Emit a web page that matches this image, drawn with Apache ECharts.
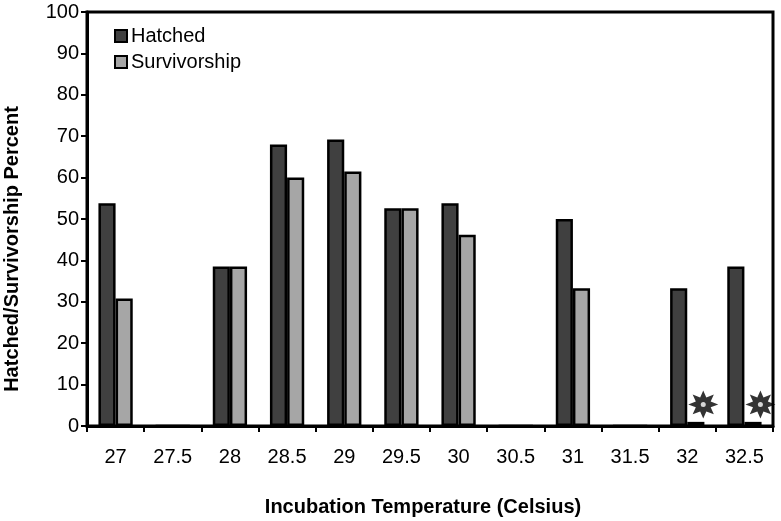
<!DOCTYPE html>
<html>
<head>
<meta charset="utf-8">
<script src="https://cdn.jsdelivr.net/npm/echarts@6/dist/echarts.min.js"></script>
<style>
html,body{margin:0;padding:0;background:#fff;}
#chart{width:781px;height:521px;}
</style>
</head>
<body>
<div id="chart"></div>
<script>
const categories = ['27','27.5','28','28.5','29','29.5','30','30.5','31','31.5','32','32.5'];
const hatched = [53.8, 0, 38.5, 68, 69.2, 52.6, 53.8, 0, 50, 0, 33.3, 38.5];
const survivorship = [30.8, 0, 38.5, 60, 61.5, 52.6, 46.2, 0, 33.3, 0, 1, 1];
const starMarkers = [null, null, null, null, null, null, null, null, null, null, 5.2, 5.2];
const yTicks = {min: 0, max: 100, interval: 10};
const xTitle = 'Incubation Temperature (Celsius)';
const yTitle = 'Hatched/Survivorship Percent';

function starPath(n, rOut, rIn) {
  let d = '';
  for (let i = 0; i < 2 * n; i++) {
    const r = i % 2 === 0 ? rOut : rIn;
    const a = -Math.PI / 2 + i * Math.PI / n;
    const x = (r * Math.cos(a)).toFixed(2), y = (r * Math.sin(a)).toFixed(2);
    d += (i === 0 ? 'M' : 'L') + x + ' ' + y + ' ';
  }
  return 'path://' + d + 'Z';
}

const font = '"Liberation Sans", Arial, sans-serif';
const chart = echarts.init(document.getElementById('chart'), null, {renderer: 'canvas'});
chart.setOption({
  animation: false,
  backgroundColor: '#fff',
  textStyle: {fontFamily: font, color: '#000'},
  grid: {left: 87, right: 8, top: 12, bottom: 95, show: true, borderColor: '#000', borderWidth: 3, backgroundColor: 'transparent'},
  legend: {
    data: ['Hatched', 'Survivorship'],
    orient: 'vertical',
    left: 109,
    top: 21,
    itemWidth: 12,
    itemHeight: 12,
    itemGap: 6,
    textStyle: {fontSize: 20, color: '#000', fontFamily: font, padding: [0, 0, 0, -1]},
    icon: 'rect'
  },
  xAxis: {
    type: 'category',
    data: categories,
    axisLine: {lineStyle: {color: '#000', width: 3}},
    axisTick: {show: true, length: 6, lineStyle: {color: '#000', width: 2}},
    axisLabel: {fontSize: 20, color: '#000', margin: 21, fontFamily: font}
  },
  yAxis: {
    type: 'value',
    min: yTicks.min, max: yTicks.max, interval: yTicks.interval,
    axisLine: {show: true, lineStyle: {color: '#000', width: 3}},
    axisTick: {show: true, length: 6, lineStyle: {color: '#000', width: 2}},
    axisLabel: {fontSize: 20, color: '#000', margin: 8, fontFamily: font},
    splitLine: {show: false}
  },
  graphic: [
    {type: 'text', x: 423, y: 507, style: {text: xTitle, font: 'bold 20px ' + font, fill: '#000', textAlign: 'center', textVerticalAlign: 'middle'}},
    {type: 'text', rotation: Math.PI / 2, x: 12, y: 249, style: {text: yTitle, font: 'bold 20px ' + font, fill: '#000', textAlign: 'center', textVerticalAlign: 'middle'}}
  ],
  series: [
    {name: 'Hatched', type: 'bar', data: hatched, barGap: '0%', barCategoryGap: '40%',
     itemStyle: {color: '#404040', borderColor: '#000', borderWidth: 2.5}},
    {name: 'Survivorship', type: 'bar', data: survivorship, barGap: '0%', barCategoryGap: '40%',
     itemStyle: {color: '#a6a6a6', borderColor: '#000', borderWidth: 2.5}},
    {name: 'marker', type: 'scatter', data: starMarkers, symbol: starPath(8, 14, 7.5), symbolSize: [30, 28],
     symbolOffset: [16, 0], itemStyle: {color: '#000'}, silent: true, z: 5},
    {name: 'markerDot', type: 'scatter', data: starMarkers, symbol: 'circle', symbolSize: 5,
     symbolOffset: [16, 0], itemStyle: {color: '#fff'}, silent: true, z: 6}
  ]
});
</script>
</body>
</html>
